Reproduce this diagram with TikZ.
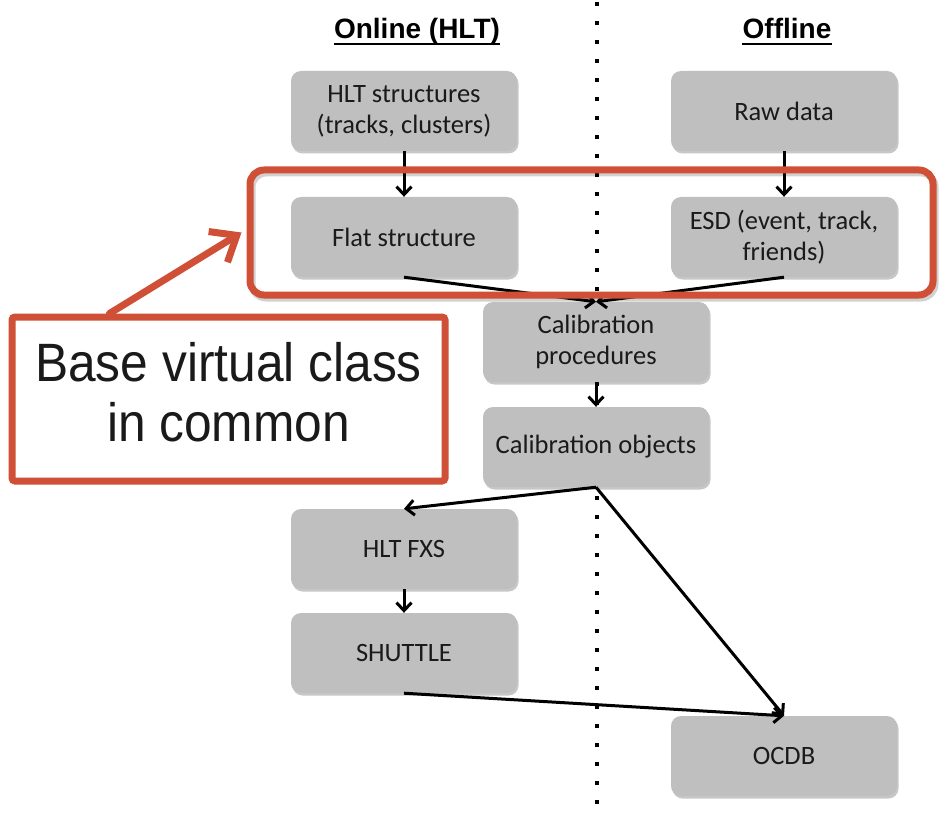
\documentclass[tikz,border=0pt]{standalone}
\usepackage{fontspec}
\setmainfont{Carlito}
\newfontfamily\arialf{Liberation Sans}
\usetikzlibrary{arrows.meta,shadows}
\definecolor{boxgray}{HTML}{BFBFBF}
\definecolor{callred}{HTML}{CF5037}
\definecolor{txt}{HTML}{1A1A1A}
\begin{document}
\begin{tikzpicture}[x=1pt,y=-1pt,
  box/.style={draw=none, fill=boxgray, rounded corners=10pt, minimum width=226pt, minimum height=80pt,
    align=center, font=\fontsize{26.5}{31}\selectfont, text=txt,
    drop shadow={shadow xshift=1.5pt, shadow yshift=-2.5pt, fill=black, opacity=0.22}},
  flow/.style={draw=black, line width=3pt, -{Straight Barb[length=8pt,width=15pt]}},
  coltitle/.style={font=\arialf\bfseries\fontsize{28}{32}\selectfont, inner sep=0pt, anchor=base, text=black},
  redline/.style={draw=callred, line width=7pt},
]
\useasboundingbox (0,0) rectangle (939,813);
% separator
\draw[line width=4pt, dash pattern=on 4pt off 15pt] (597,2) -- (597,813);
% titles
\node[coltitle] (ton) at (417,39) {Online (HLT)};
\draw[line width=2pt] ([yshift=-5pt]ton.base west) -- ([yshift=-5pt]ton.base east);
\node[coltitle] (toff) at (787,39) {Offline};
\draw[line width=2pt] ([yshift=-5pt]toff.base west) -- ([yshift=-5pt]toff.base east);
% boxes
\node[box] (hlt) at (404,111) {HLT structures\\(tracks, clusters)};
\node[box] (raw) at (784,111) {Raw data};
\node[box] (flat) at (404,237) {Flat structure};
\node[box] (esd) at (784,237) {ESD (event, track,\\friends)};
\node[box] (proc) at (596,342) {Calibration\\procedures};
\node[box] (obj) at (596,447) {Calibration objects};
\node[box] (fxs) at (404,549) {HLT FXS};
\node[box] (shuttle) at (404,653) {SHUTTLE};
\node[box] (ocdb) at (784,756) {OCDB};
% connectors
\draw[flow] (hlt.south) -- (flat.north);
\draw[flow] (raw.south) -- (esd.north);
\draw[flow] (flat.south) -- (proc.north);
\draw[flow] (esd.south) -- (proc.north);
\draw[flow] (proc.south) -- (obj.north);
\draw[flow] (obj.south) -- (fxs.north);
\draw[flow] (fxs.south) -- (shuttle.north);
\draw[flow] (obj.south) -- (ocdb.north);
\draw[flow] (shuttle.south) -- (ocdb.north);
% highlight group
\node[redline, rounded corners=14pt, minimum width=683pt, minimum height=125pt,
  preaction={draw=black, opacity=0.18, line width=7pt, transform canvas={xshift=2pt,yshift=-3pt}}]
  (grp) at (591.5,232.5) {};
% callout
\node[redline, fill=white, rounded corners=3pt, minimum width=433pt, minimum height=164pt,
  text=txt, inner sep=0pt, font=\arialf\fontsize{54}{60}\selectfont]
  (call) at (228.5,399) {\scalebox{0.92}[1]{\begin{tabular}{@{}c@{}}Base virtual class\\in common\end{tabular}}};
\draw[redline, line cap=round, line join=round, -{Straight Barb[length=22pt,width=36pt]}]
  ([xshift=101pt]call.north west) -- ([xshift=-5pt]grp.west);
\end{tikzpicture}
\end{document}
